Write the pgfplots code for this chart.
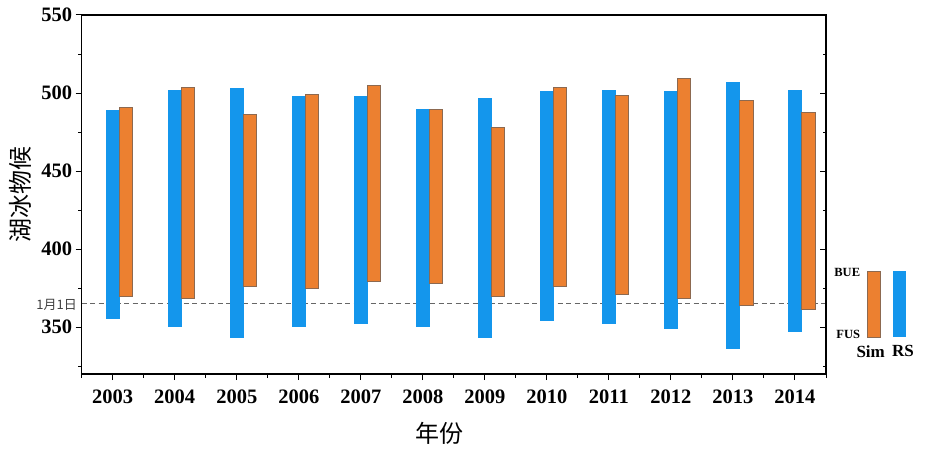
\documentclass[border=0pt]{standalone}
\usepackage{pgfplots}
\usepackage{pgfplotstable}
\pgfplotsset{compat=1.18}
\usepackage{fontspec}
\setmainfont{Liberation Serif}
\newfontfamily\cjk{Noto Sans CJK SC}
\definecolor{rsblue}{RGB}{20,150,236}
\definecolor{simorange}{RGB}{236,128,48}
\definecolor{simedge}{RGB}{140,105,80}

\pgfplotstableread{
x year rslo rshi simlo simhi
0 2003 356.0 489.1 369.7 490.8
1 2004 350.9 501.9 368.6 503.6
2 2005 343.8 503.0 376.1 486.3
3 2006 350.9 497.9 374.8 499.2
4 2007 352.8 497.9 379.7 504.9
5 2008 350.9 489.7 378.4 489.7
6 2009 343.8 496.6 369.7 477.8
7 2010 354.7 501.1 375.9 503.6
8 2011 352.8 501.9 371.4 498.5
9 2012 349.6 501.1 368.4 509.4
10 2013 336.8 506.8 363.9 495.5
11 2014 347.6 501.9 361.3 487.6
}\datatable

\pgfplotsset{
  common/.style={
    at={(0pt,0pt)}, anchor=south west,
    scale only axis, width=744.3pt, height=359pt,
    xmin=-0.5, xmax=11.5, ymin=320, ymax=550,
  },
}

\begin{document}
\begin{tikzpicture}
\path[use as bounding box] (-81.7pt,-76pt) rectangle (846.3pt,374pt);
% reference line and right-hand inward ticks
\begin{axis}[
  common,
  hide x axis,
  axis y line*=right,
  ytick={350,400,450,500,550},
  minor ytick={325,375,425,475,525},
  yticklabels={},
  tick align=inside, ytick pos=right,
  major tick length=6pt, minor tick length=3.5pt,
  axis line style={line width=1.3pt},
  tick style={black, line width=1pt},
]
\addplot[black!60, line width=0.6pt, dash pattern=on 5pt off 3.5pt] coordinates {(-0.5,365) (11.5,365)};
\end{axis}
% main axis with RS bars
\begin{axis}[
  common,
  ybar stacked, bar width=13.2pt,
  xtick={0,...,11},
  xticklabels={2003,2004,2005,2006,2007,2008,2009,2010,2011,2012,2013,2014},
  minor xtick={-0.5,0.5,...,11.5},
  ytick={350,400,450,500,550},
  minor ytick={325,375,425,475,525},
  tick align=outside, xtick pos=bottom, ytick pos=left,
  major tick length=6pt, minor tick length=3.5pt,
  axis line style={line width=1.3pt},
  tick style={black, line width=1pt},
  /pgf/number format/assume math mode=true,
  /pgf/number format/1000 sep={},
  tick label style={font=\fontsize{20.5}{21}\selectfont\bfseries},
  xticklabel style={yshift=-6pt},
  xlabel={\cjk 年份},
  ylabel={\cjk 湖冰物候},
  label style={font=\fontsize{24}{26}\selectfont},
  xlabel style={at={(axis description cs:0.481,-0.1643)}, anchor=center},
  ylabel style={at={(axis description cs:-0.0829,0.5)}, anchor=center},
  clip=false,
]
\addplot[draw=none, fill=none, bar shift=0pt] table[x=x, y=rslo]{\datatable};
\addplot[fill=rsblue, draw=rsblue, bar shift=0pt] table[x=x, y expr=\thisrow{rshi}-\thisrow{rslo}]{\datatable};
% legend keys
\filldraw[fill=simorange, draw=simedge, line width=0.5pt] (axis cs:12.16,343.8) rectangle (axis cs:12.376,386.1);
\fill[rsblue] (axis cs:12.574,343.8) rectangle (axis cs:12.79,386.1);
\node[anchor=east, inner sep=0pt, font=\fontsize{12.5}{13}\selectfont\bfseries] at (axis cs:12.053,384.9) {BUE};
\node[anchor=east, inner sep=0pt, font=\fontsize{12.5}{13}\selectfont\bfseries] at (axis cs:12.053,345.5) {FUS};
\node[anchor=center, inner sep=0pt, font=\fontsize{17}{18}\selectfont\bfseries] at (axis cs:12.22,334.6) {Sim};
\node[anchor=center, inner sep=0pt, font=\fontsize{17}{18}\selectfont\bfseries] at (axis cs:12.74,334.6) {RS};
\node[anchor=east, inner sep=0pt, text=black!75, font=\cjk\fontsize{13}{14}\selectfont] at (axis cs:-0.575,364) {1月1日};
\end{axis}
% Sim bars
\begin{axis}[
  common,
  hide axis,
  ybar stacked, bar width=13.2pt,
]
\addplot[draw=none, fill=none, bar shift=13.2pt] table[x=x, y=simlo]{\datatable};
\addplot[fill=simorange, draw=simedge, line width=0.5pt, bar shift=13.2pt] table[x=x, y expr=\thisrow{simhi}-\thisrow{simlo}]{\datatable};
\end{axis}
\end{tikzpicture}
\end{document}
